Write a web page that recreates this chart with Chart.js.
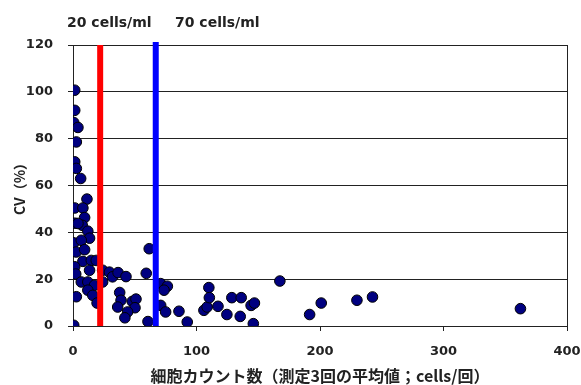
<!DOCTYPE html>
<html>
<head>
<meta charset="utf-8">
<script src="https://cdn.jsdelivr.net/npm/chart.js@4"></script>
<style>
  html, body { margin: 0; padding: 0; background: #fff; }
  #wrap { width: 581px; height: 385px; }
</style>
</head>
<body>
<div id="wrap"><canvas id="cvChart"></canvas></div>
<script>
/* ---------- DATA ---------- */
const cellCounts = [
  1.4, 1.4, 0.6, 4, 2.7, 1.4, 2.7, 6.2, 11.3, 1.4,
  8, 9.4, 1.4, 7.5, 4, 12, 13.4, 0.6, 6.7, 2.7,
  9.4, 8, 14.8, 18.8, 1.4, 2.2, 13.4, 6.7, 12, 17.4,
  12, 2.7, 16, 19.5, 24, 24, 29.5, 32, 36.5, 42.9,
  59.3, 61.7, 37.8, 38.9, 36.2, 48, 51, 50.2, 44.2, 42,
  60.7, 0.6, 71, 76.4, 73.7, 71, 75, 85.8, 92.5, 106,
  108.6, 110, 110.4, 117.4, 124.6, 128.6, 136.2, 135.4, 144.2, 146.9,
  146, 167.5, 191.6, 201, 229.9, 242.5, 362.3
];
const cvValues = [
  100.7, 92.1, 86.9, 84.8, 78.6, 70.1, 67.3, 63, 54.2, 50.4,
  50.4, 46.3, 43.9, 43, 43.8, 40.5, 37.5, 35.5, 36.6, 31.6,
  32.6, 27.6, 28, 28, 25.3, 22.2, 23.8, 18.8, 18.8, 17.4,
  15.3, 12.5, 13.1, 9.8, 23.8, 18.8, 23, 21, 22.8, 21.1,
  22.5, 33, 14.3, 11, 8.1, 10.5, 11.5, 7.8, 6, 3.5,
  1.9, 0.3, 18.1, 17, 15.3, 8.8, 6, 6.3, 1.7, 6.7,
  8.1, 16.4, 12.1, 8.4, 4.9, 12.1, 12.1, 4.1, 8.8, 9.8,
  1, 19.2, 4.9, 9.8, 11, 12.4, 7.4
];

const lowLimit = 22;
const highLimit = 67;
const limitLabels = ["20 cells/ml", "70 cells/ml"];
const xTitle = "細胞カウント数（測定3回の平均値；cells/回）";
const yTitle = "CV（%）";

/* ---------- STYLE ---------- */
const latinFont = '"DejaVu Sans", sans-serif';
const cjkFont = '"Noto Sans CJK JP", "DejaVu Sans", sans-serif';
const textColor = "#222";

const points = cellCounts.map((x, i) => ({ x, y: cvValues[i] }));

/* right frame + labels above the plot */
const framePlugin = {
  id: "frame",
  afterDatasetsDraw(chart) {
    const { ctx, chartArea: a } = chart;
    ctx.save();
    ctx.strokeStyle = "#222";
    ctx.lineWidth = 1;
    ctx.beginPath();
    ctx.moveTo(Math.round(a.right) + 0.5, a.top);
    ctx.lineTo(Math.round(a.right) + 0.5, a.bottom);
    ctx.stroke();

    ctx.font = "bold 14px " + latinFont;
    ctx.fillStyle = textColor;
    ctx.textBaseline = "middle";
    ctx.fillText(limitLabels[0], a.left - 6, 23);
    ctx.fillText(limitLabels[1], a.left + 102, 23);
    ctx.restore();
  }
};

new Chart(document.getElementById("cvChart"), {
  type: "scatter",
  data: {
    datasets: [
      {
        type: "line",
        data: [{ x: lowLimit, y: 0 }, { x: lowLimit, y: 120 }],
        borderColor: "#ff0000",
        borderWidth: 6,
        pointRadius: 0,
        order: 0
      },
      {
        type: "line",
        data: [{ x: highLimit, y: 0 }, { x: highLimit, y: 121.3 }],
        borderColor: "#0000ff",
        borderWidth: 6,
        pointRadius: 0,
        clip: false,
        order: 0
      },
      {
        data: points,
        backgroundColor: "#000080",
        borderColor: "#000",
        borderWidth: 1,
        pointRadius: 5.3,
        order: 1
      }
    ]
  },
  options: {
    responsive: true,
    maintainAspectRatio: false,
    animation: false,
    layout: { padding: { top: 45, right: 14, left: 0, bottom: 0 } },
    plugins: { legend: { display: false }, tooltip: { enabled: false } },
    scales: {
      x: {
        type: "linear",
        min: 0,
        max: 400,
        ticks: {
          stepSize: 100,
          padding: 13,
          color: textColor,
          font: { family: latinFont, size: 13, weight: "bold" }
        },
        grid: { drawOnChartArea: false, tickLength: 5, color: "#222" },
        border: { color: "#222" },
        title: {
          display: true,
          text: xTitle,
          color: textColor,
          padding: { top: 0, bottom: 0 },
          font: { family: cjkFont, size: 16, weight: "bold", lineHeight: 1.1 }
        },
        afterFit: s => { s.height = 59; s.paddingRight = 0; s.paddingLeft = 0; }
      },
      y: {
        min: 0,
        max: 120,
        ticks: {
          stepSize: 20,
          padding: 15,
          color: textColor,
          font: { family: latinFont, size: 13, weight: "bold" }
        },
        grid: { color: "#222", tickLength: 5 },
        border: { color: "#222" },
        title: {
          display: true,
          text: yTitle,
          color: textColor,
          padding: { top: 11, bottom: 0 },
          font: { family: cjkFont, size: 14, weight: "bold" }
        },
        afterFit: s => { s.width = 73; }
      }
    }
  },
  plugins: [framePlugin]
});
</script>
</body>
</html>
